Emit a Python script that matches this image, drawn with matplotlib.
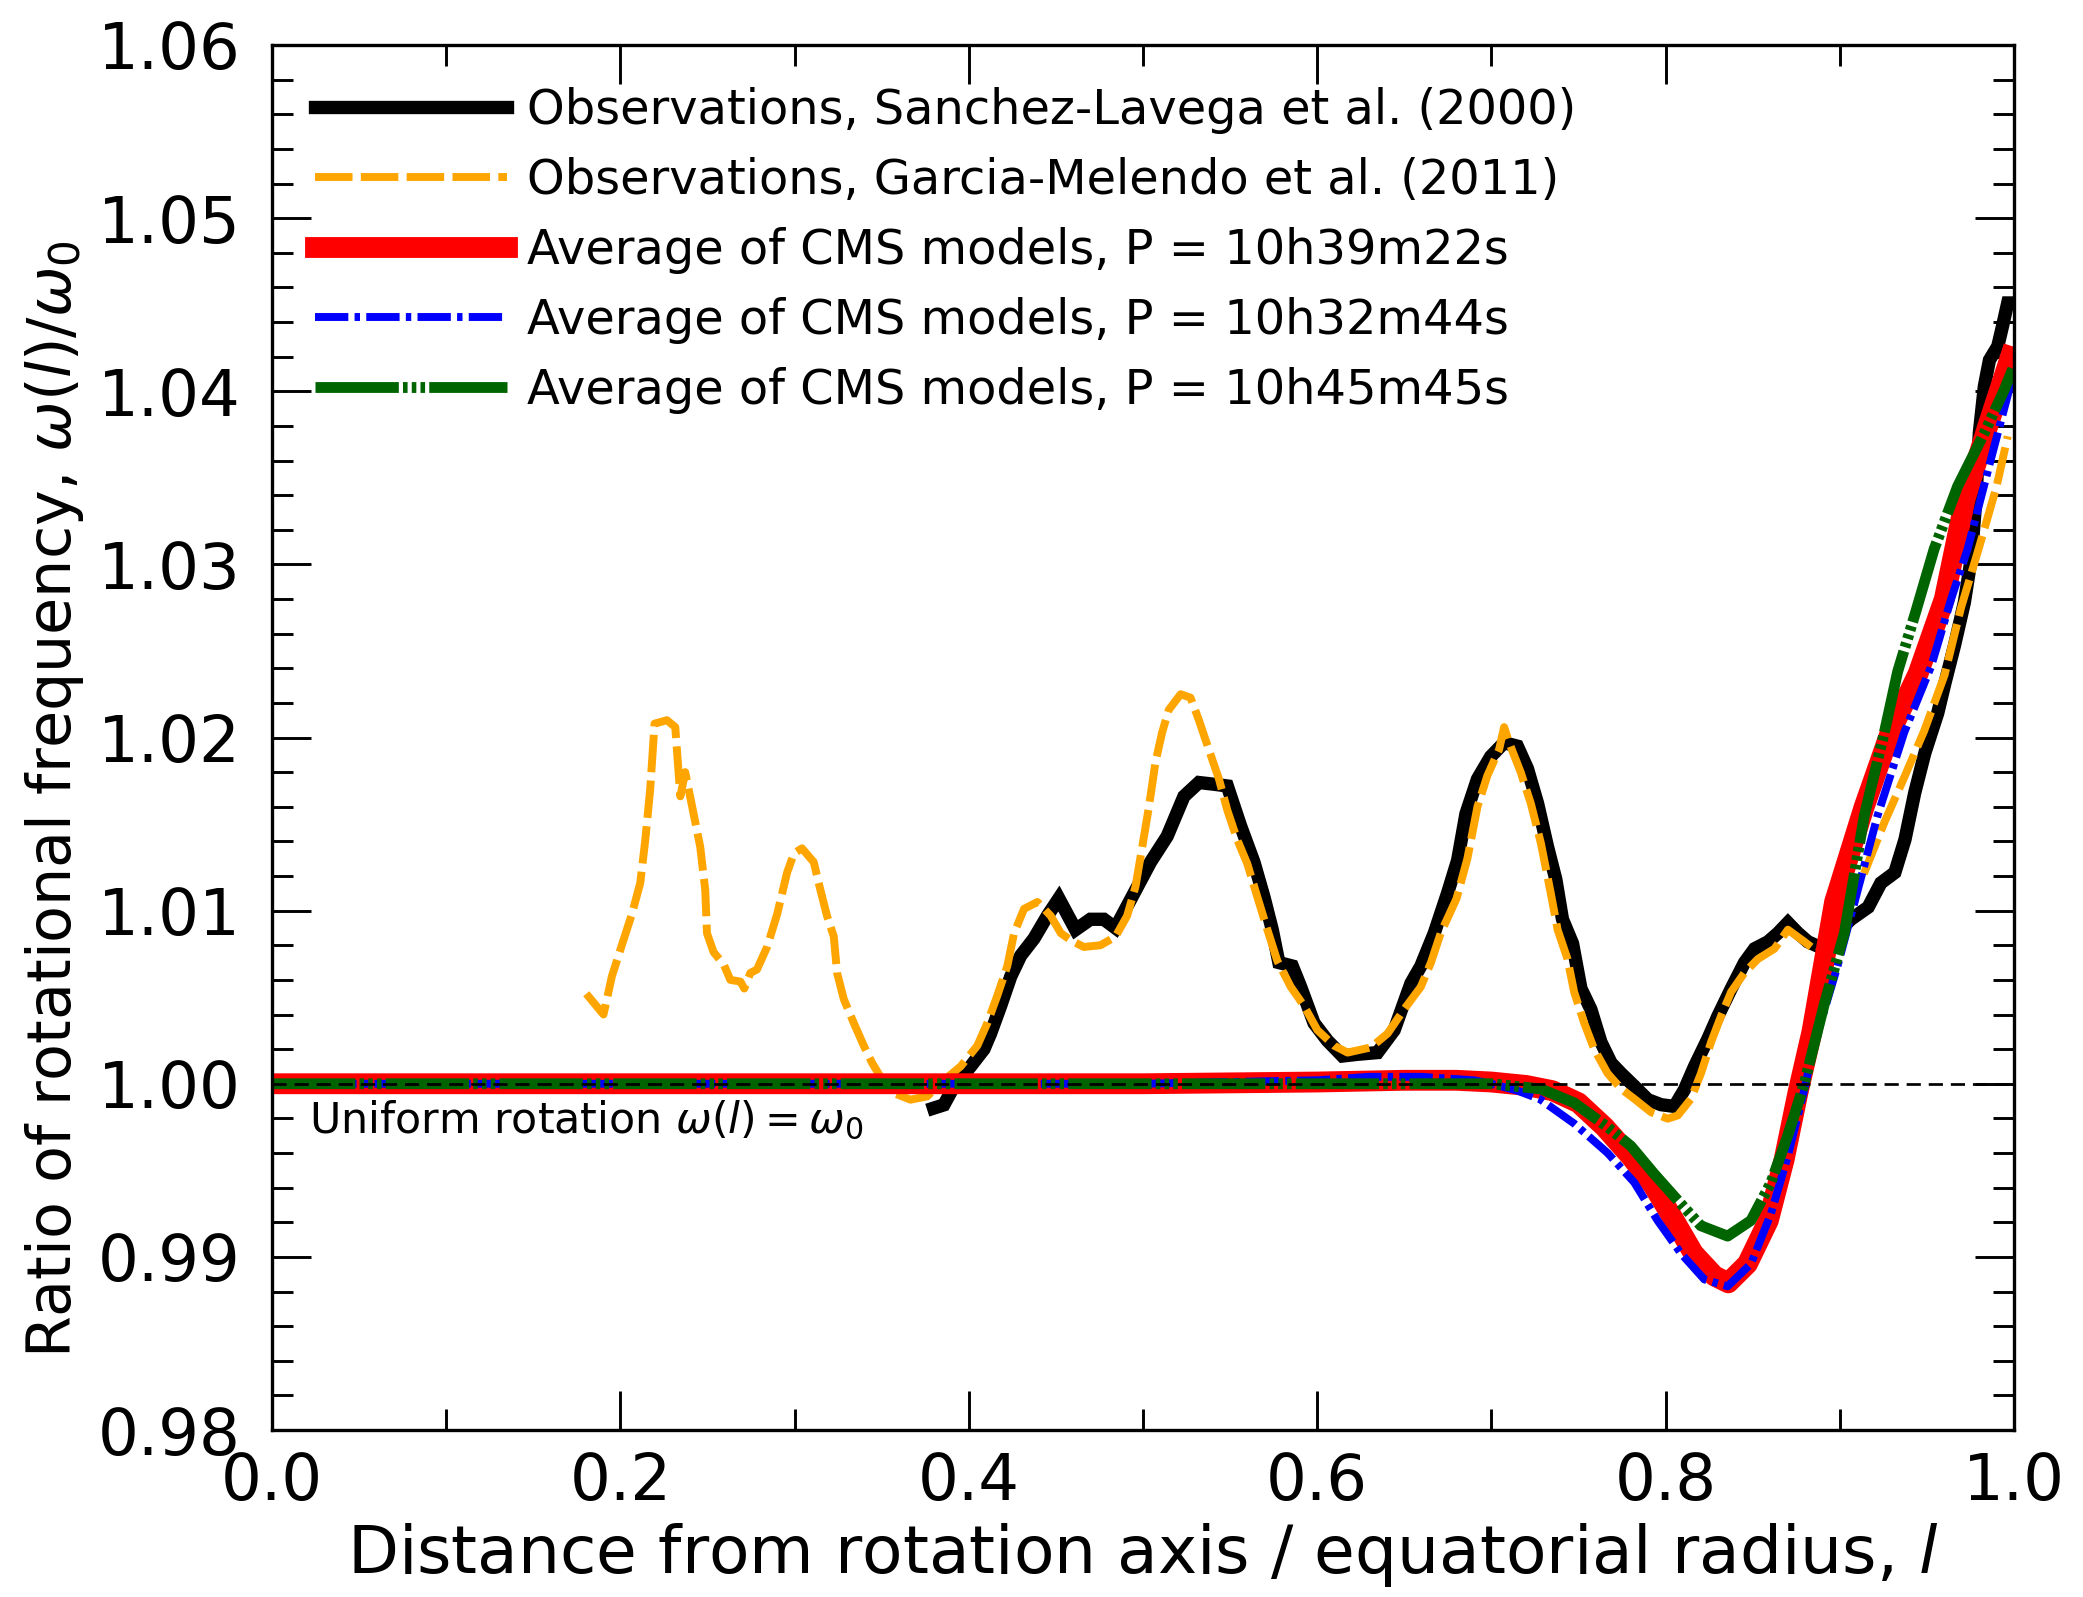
import matplotlib
matplotlib.use("Agg")
import matplotlib.pyplot as plt
import numpy as np

plt.rcParams['font.family'] = ['DejaVu Sans']
plt.rcParams['mathtext.fontset'] = 'dejavusans'
plt.rcParams['lines.scale_dashes'] = False

# ---------------- data ----------------
# Observations, Sanchez-Lavega et al. (2000)
sl_x = [0.3798, 0.3857, 0.3914, 0.4010, 0.4087, 0.4125, 0.4183, 0.4241, 0.4298, 0.4375,
        0.4451, 0.4517, 0.4613, 0.4698, 0.4775, 0.4842, 0.4948, 0.5043, 0.5139, 0.5235,
        0.5321, 0.5407, 0.5484, 0.5560, 0.5637, 0.5694, 0.5742, 0.5780, 0.5857, 0.5905,
        0.5982, 0.6058, 0.6145, 0.6231, 0.6346, 0.6442, 0.6538, 0.6595, 0.6672, 0.6748,
        0.6806, 0.6854, 0.6920, 0.6996, 0.7073, 0.7149, 0.7207, 0.7265, 0.7322, 0.7370,
        0.7408, 0.7466, 0.7514, 0.7571, 0.7629, 0.7687, 0.7744, 0.7821, 0.7898, 0.7974,
        0.8051, 0.8108, 0.8166, 0.8243, 0.8300, 0.8377, 0.8453, 0.8511, 0.8588, 0.8645,
        0.8702, 0.8760, 0.8817, 0.8884, 0.8942, 0.9064, 0.9163, 0.9236, 0.9316, 0.9374,
        0.9430, 0.9488, 0.9562, 0.9605, 0.9658, 0.9715, 0.9754, 0.9781, 0.9801, 0.9830,
        0.9859, 0.9907, 0.9935, 0.9964, 0.9993]
sl_y = [0.99859, 0.99878, 0.99984, 1.0010, 1.0020, 1.0029, 1.0045, 1.0062, 1.0074, 1.0084,
        1.0097, 1.0107, 1.0089, 1.0095, 1.0095, 1.0090, 1.0110, 1.0128, 1.0143, 1.0166,
        1.0174, 1.0173, 1.0172, 1.0149, 1.0128, 1.0108, 1.0089, 1.0070, 1.0068, 1.0056,
        1.0035, 1.0025, 1.0016, 1.0017, 1.0018, 1.0031, 1.0058, 1.0068, 1.0087, 1.0110,
        1.0129, 1.0156, 1.0176, 1.0189, 1.0197, 1.0195, 1.0182, 1.0162, 1.0137, 1.0118,
        1.0095, 1.0081, 1.0055, 1.0043, 1.0024, 1.0012, 1.0006, 0.99985, 0.99908, 0.99879,
        0.99869, 0.99966, 1.0010, 1.0026, 1.0039, 1.0055, 1.0070, 1.0078, 1.0082, 1.0087,
        1.0093, 1.0087, 1.0082, 1.0079, 1.0083, 1.0095, 1.0102, 1.0116, 1.0122, 1.0141,
        1.0168, 1.0191, 1.0214, 1.0232, 1.0253, 1.0278, 1.0303, 1.0337, 1.0376, 1.0403,
        1.0418, 1.0426, 1.0438, 1.0451, 1.0451]

# Observations, Garcia-Melendo et al. (2011)
gm_x = [0.1804, 0.1903, 0.1951, 0.2008, 0.2066, 0.2114, 0.2143, 0.2171, 0.2196, 0.2267,
        0.2315, 0.2344, 0.2372, 0.2420, 0.2458, 0.2487, 0.2497, 0.2535, 0.2593, 0.2631,
        0.2689, 0.2711, 0.2746, 0.2784, 0.2842, 0.2900, 0.2957, 0.2996, 0.3042, 0.3110,
        0.3148, 0.3186, 0.3225, 0.3244, 0.3282, 0.3340, 0.3397, 0.3445, 0.3493, 0.3570,
        0.3665, 0.3761, 0.3857, 0.3953, 0.4049, 0.4106, 0.4164, 0.4221, 0.4260, 0.4317,
        0.4394, 0.4470, 0.4528, 0.4584, 0.4660, 0.4756, 0.4842, 0.4909, 0.4957, 0.4996,
        0.5034, 0.5072, 0.5110, 0.5148, 0.5216, 0.5273, 0.5321, 0.5378, 0.5436, 0.5484,
        0.5541, 0.5599, 0.5656, 0.5714, 0.5771, 0.5848, 0.5924, 0.6001, 0.6097, 0.6174,
        0.6308, 0.6404, 0.6499, 0.6595, 0.6653, 0.6709, 0.6800, 0.6862, 0.6920, 0.6977,
        0.7044, 0.7073, 0.7102, 0.7168, 0.7226, 0.7284, 0.7341, 0.7380, 0.7437, 0.7475,
        0.7533, 0.7590, 0.7667, 0.7744, 0.7820, 0.7916, 0.8012, 0.8070, 0.8146, 0.8203,
        0.8261, 0.8318, 0.8376, 0.8452, 0.8529, 0.8625, 0.8702, 0.8797, 0.8874, 0.8911,
        0.9000, 0.9141, 0.9256, 0.9370, 0.9485, 0.9601, 0.9696, 0.9800, 0.9900, 0.9964]
gm_y = [1.0052, 1.0040, 1.0062, 1.0080, 1.0098, 1.0116, 1.0141, 1.0170, 1.0208, 1.0210,
        1.0206, 1.0166, 1.0180, 1.0156, 1.0137, 1.0112, 1.0087, 1.0076, 1.0069, 1.0060,
        1.0059, 1.0055, 1.0064, 1.0066, 1.0079, 1.0098, 1.0122, 1.0133, 1.0136, 1.0128,
        1.0112, 1.0097, 1.0085, 1.0064, 1.0049, 1.0035, 1.0022, 1.0012, 1.0004, 0.99946,
        0.99908, 0.99927, 1.0002, 1.0010, 1.0022, 1.0035, 1.0051, 1.0068, 1.0087, 1.0101,
        1.0105, 1.0097, 1.0087, 1.0083, 1.0079, 1.0080, 1.0085, 1.0097, 1.0114, 1.0137,
        1.0160, 1.0186, 1.0203, 1.0216, 1.0225, 1.0223, 1.0210, 1.0193, 1.0176, 1.0158,
        1.0141, 1.0127, 1.0108, 1.0089, 1.0071, 1.0056, 1.0045, 1.0031, 1.0022, 1.0018,
        1.0021, 1.0029, 1.0043, 1.0056, 1.0070, 1.0087, 1.0107, 1.0130, 1.0160, 1.0178,
        1.0193, 1.0206, 1.0197, 1.0180, 1.0162, 1.0139, 1.0110, 1.0089, 1.0072, 1.0053,
        1.0035, 1.0020, 1.0006, 0.99971, 0.99913, 0.99836, 0.99798, 0.99817, 0.99913, 1.0006,
        1.0024, 1.0039, 1.0053, 1.0064, 1.0072, 1.0078, 1.0089, 1.0082, 1.0076, 1.0080,
        1.0095, 1.0122, 1.0151, 1.0177, 1.0204, 1.0236, 1.0275, 1.0310, 1.0345, 1.0374]

# Average of CMS models, P = 10h39m22s
red_x = [0.0, 0.1, 0.2, 0.3, 0.4, 0.5, 0.6, 0.65, 0.68, 0.70, 0.72, 0.735, 0.75, 0.765,
         0.78, 0.793, 0.805, 0.816, 0.828, 0.836, 0.847, 0.859, 0.868, 0.876, 0.884,
         0.897, 0.914, 0.929, 0.945, 0.960, 0.972, 0.985, 0.998]
red_y = [1.0, 1.0, 1.0, 1.0, 1.0, 1.0, 1.0001, 1.0002, 1.0002, 1.0001, 0.9999, 0.9996,
         0.9989, 0.9975, 0.9958, 0.9941, 0.9921, 0.9902, 0.9889, 0.9885, 0.9896, 0.9921,
         0.9956, 0.9995, 1.0030, 1.0105, 1.0160, 1.0203, 1.0237, 1.0280, 1.0338, 1.0380,
         1.0420]

# Average of CMS models, P = 10h32m44s
blue_x = [0.0, 0.3, 0.5, 0.6, 0.63, 0.66, 0.69, 0.70, 0.715, 0.728, 0.7475, 0.7667,
          0.782, 0.7954, 0.8088, 0.8222, 0.8356, 0.849, 0.8605, 0.8701, 0.8796, 0.8853,
          0.8987, 0.9217, 0.937, 0.9524, 0.9639, 0.9734, 0.9868, 0.9983]
blue_y = [1.0, 1.0, 1.0, 1.0002, 1.0004, 1.0004, 1.0002, 1.0000, 0.9996, 0.9991, 0.9977,
          0.9960, 0.9943, 0.9921, 0.9902, 0.9887, 0.9883, 0.9896, 0.9925, 0.9958, 0.99965,
          1.0023, 1.0068, 1.0155, 1.0203, 1.0241, 1.0280, 1.0309, 1.0361, 1.0405]

# Average of CMS models, P = 10h45m45s
green_x = [0.0, 0.3, 0.6, 0.7, 0.7284, 0.7475, 0.7667, 0.7801, 0.7934, 0.8049, 0.8202,
           0.8356, 0.849, 0.8605, 0.8701, 0.8796, 0.8911, 0.9026, 0.9141, 0.9256, 0.9332,
           0.9437, 0.9542, 0.9676, 0.983, 0.9945, 0.9993]
green_y = [1.0, 1.0, 1.0, 1.0, 0.9997, 0.9989, 0.9975, 0.9964, 0.9948, 0.9935, 0.9918,
           0.9912, 0.9921, 0.9943, 0.9970, 1.0000, 1.0046, 1.0087, 1.0155, 1.0203, 1.0238,
           1.0273, 1.0309, 1.0345, 1.0376, 1.0401, 1.0413]

labels = ["Observations, Sanchez-Lavega et al. (2000)",
          "Observations, Garcia-Melendo et al. (2011)",
          "Average of CMS models, P = 10h39m22s",
          "Average of CMS models, P = 10h32m44s",
          "Average of CMS models, P = 10h45m45s"]

# ---------------- figure ----------------
W, H, DPI = 2083, 1597, 300
fig = plt.figure(figsize=(W / DPI, H / DPI), dpi=DPI)
L, R, T, B = 272, 2014, 45, 1430
ax = fig.add_axes([L / W, 1 - B / H, (R - L) / W, (B - T) / H])

ax.plot(sl_x, sl_y, color='black', lw=3.2, solid_joinstyle='miter', label=labels[0])
ax.plot(gm_x, gm_y, color='orange', lw=1.9, dashes=(9.0, 2.0), label=labels[1])
ax.plot(red_x, red_y, color='red', lw=5.0, label=labels[2])
ax.plot(blue_x, blue_y, color='blue', lw=1.9, dashes=(8.0, 1.5, 1.3, 1.5), label=labels[3])
ax.plot(green_x, green_y, color='darkgreen', lw=2.6,
        dashes=(20.0, 1.0, 1.1, 1.0, 1.1, 1.0, 1.1, 1.0), label=labels[4])
ax.axhline(1.0, color='black', lw=0.65, dashes=(3.4, 1.9))

ax.text(0.021, 0.99915, r"Uniform rotation $\omega(l) = \omega_0$", fontsize=10.25,
        ha='left', va='top')

ax.set_xlim(0.0, 1.0)
ax.set_ylim(0.98, 1.06)
ax.set_xticks(np.arange(0.0, 1.01, 0.2))
ax.set_xticks(np.arange(0.1, 1.0, 0.2), minor=True)
ax.set_yticks(np.arange(0.98, 1.0601, 0.01))
ax.set_yticks(np.arange(0.98, 1.0601, 0.002), minor=True)
ax.xaxis.set_major_formatter(matplotlib.ticker.FormatStrFormatter('%.1f'))
ax.yaxis.set_major_formatter(matplotlib.ticker.FormatStrFormatter('%.2f'))
ax.tick_params(which='both', direction='in', top=True, right=True, width=0.7)
ax.tick_params(which='major', length=9.4, labelsize=15.4)
ax.tick_params(which='minor', length=5.0)
ax.tick_params(axis='y', which='major', pad=7.5)
ax.tick_params(axis='x', which='major', pad=5.0)
for s in ax.spines.values():
    s.set_linewidth(0.8)

ax.set_xlabel(r"Distance from rotation axis / equatorial radius, $l$", fontsize=15.9,
              labelpad=2)
ax.set_ylabel(r"Ratio of rotational frequency, $\omega(l)/\omega_0$", fontsize=14.5)
ax.yaxis.set_label_coords(-0.1065, 0.4555)

fs_leg = 11.5
em = fs_leg * DPI / 72
leg = ax.legend(loc='upper left', frameon=False, fontsize=fs_leg,
                bbox_to_anchor=((315 - L) / (R - L), 1 - (87 - T) / (B - T)),
                borderaxespad=0, borderpad=0, handlelength=192 / em,
                handletextpad=20 / em, labelspacing=0.48)

fig.savefig("out.png", dpi=DPI)
